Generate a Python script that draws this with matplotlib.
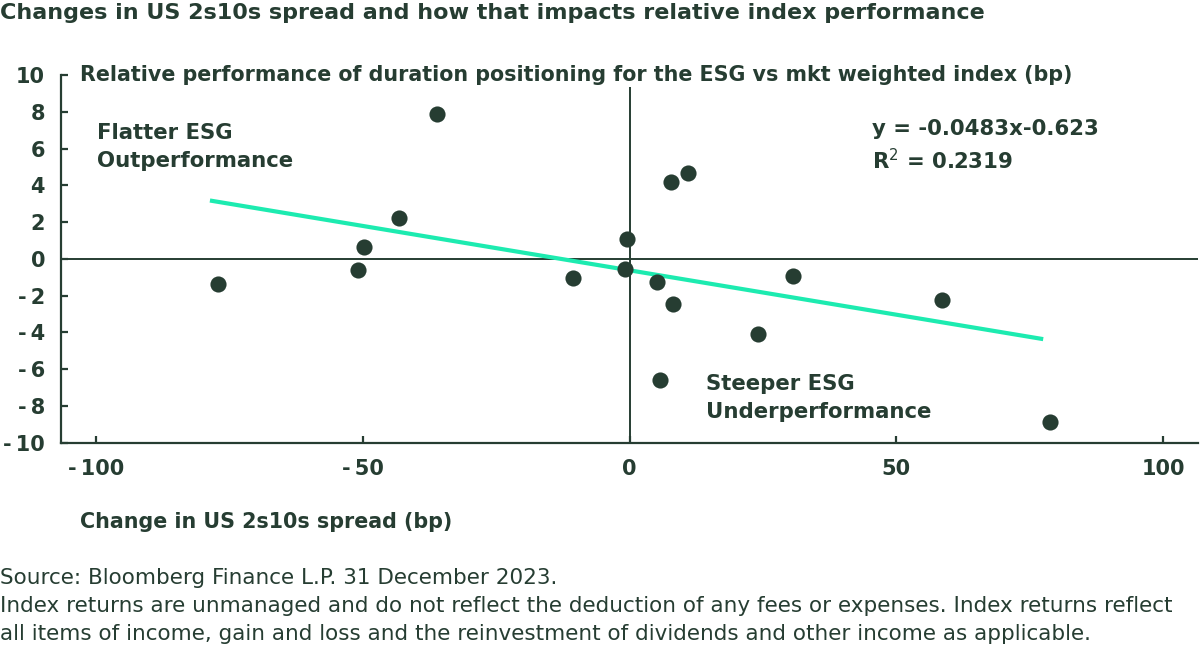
import matplotlib
matplotlib.use("Agg")
import matplotlib.pyplot as plt
import numpy as np

# ---- data ----
spread_change = [-77.1, -50.8, -49.8, -43.2, -36.1, -10.5, -0.5, -0.8, 5.1, 8.2,
                 7.8, 10.9, 24.0, 5.8, 30.7, 58.6, 78.8]
rel_perf = [-1.36, -0.62, 0.65, 2.24, 7.88, -1.03, 1.10, -0.54, -1.27, -2.43,
            4.18, 4.67, -4.11, -6.61, -0.94, -2.25, -8.86]
slope = -0.0483
intercept = -0.623
r_squared = 0.2319
x_ticks = [-100, -50, 0, 50, 100]
y_ticks = [-10, -8, -6, -4, -2, 0, 2, 4, 6, 8, 10]

DARK = "#263d32"
TEAL = "#1debb0"
FAM = ["DejaVu Sans"]

W, H = 1200, 653
fig = plt.figure(figsize=(W / 100, H / 100), dpi=100)
fig.patch.set_facecolor("white")

ax = fig.add_axes([61 / W, 1 - 442.7 / H, (1198 - 61) / W, (442.7 - 75) / H])
ax.set_xlim(-106.5, 106.5)
ax.set_ylim(-10, 10)

for s in ["top", "right"]:
    ax.spines[s].set_visible(False)
for s in ["left", "bottom"]:
    ax.spines[s].set_color(DARK)
    ax.spines[s].set_linewidth(1.6)

ax.axhline(0, color=DARK, lw=1.4, zorder=1)
ax.axvline(0, color=DARK, lw=1.4, zorder=1)

# trendline
xs = np.array([min(spread_change) - 1.5, max(spread_change) - 1.3])
ax.plot(xs, slope * xs + intercept, color=TEAL, lw=3, zorder=2, solid_capstyle="butt")

ax.scatter(spread_change, rel_perf, s=135, color=DARK, zorder=3, linewidths=0)


def fmt(v):
    return f"-\u2009{abs(v)}" if v < 0 else f"{v}"


tick_font = dict(family=FAM, weight="bold", size=15)
ax.set_xticks(x_ticks)
ax.set_xticklabels([fmt(v) for v in x_ticks], **tick_font)
ax.set_yticks(y_ticks)
ax.set_yticklabels([fmt(v) for v in y_ticks], **tick_font)
ax.tick_params(axis="both", direction="in", length=5, width=1.6, color=DARK, labelcolor=DARK)
ax.tick_params(axis="x", pad=12)
ax.tick_params(axis="y", pad=11.5)

lab_font = dict(family=FAM, weight="bold", size=14.9, color=DARK)

# y-axis label (top)
fig.text(80 / W, 1 - 75 / H, "Relative performance of duration positioning for the ESG vs mkt weighted index (bp)",
         ha="left", va="center", zorder=5,
         bbox=dict(facecolor="white", edgecolor="none", pad=1.5), **lab_font)

# annotations
ann_font = dict(family=FAM, weight="bold", size=15.3, color=DARK, linespacing=1.45)
fig.text(97 / W, 1 - 147 / H, "Flatter ESG\nOutperformance", ha="left", va="center", **ann_font)
fig.text(872 / W, 1 - 146 / H, f"y = {slope}x{intercept}\nR$^{{2}}$ = {r_squared}", ha="left", va="center", **ann_font)
fig.text(706 / W, 1 - 398 / H, "Steeper ESG\nUnderperformance", ha="left", va="center", **ann_font)

# x-axis label
fig.text(80 / W, 1 - 522 / H, "Change in US 2s10s spread (bp)", ha="left", va="center", **lab_font)

# title
fig.text(0, 1 - 13 / H, "Changes in US 2s10s spread and how that impacts relative index performance",
         ha="left", va="center", family=FAM, weight="bold", size=16, color=DARK)

# source
src = ("Source: Bloomberg Finance L.P. 31 December 2023.\n"
       "Index returns are unmanaged and do not reflect the deduction of any fees or expenses. Index returns reflect\n"
       "all items of income, gain and loss and the reinvestment of dividends and other income as applicable.")
fig.text(0, 1 - 606 / H, src, ha="left", va="center", family=FAM,
         size=15.5, color=DARK, linespacing=1.5)

fig.savefig("out.png", dpi=100, facecolor="white")
